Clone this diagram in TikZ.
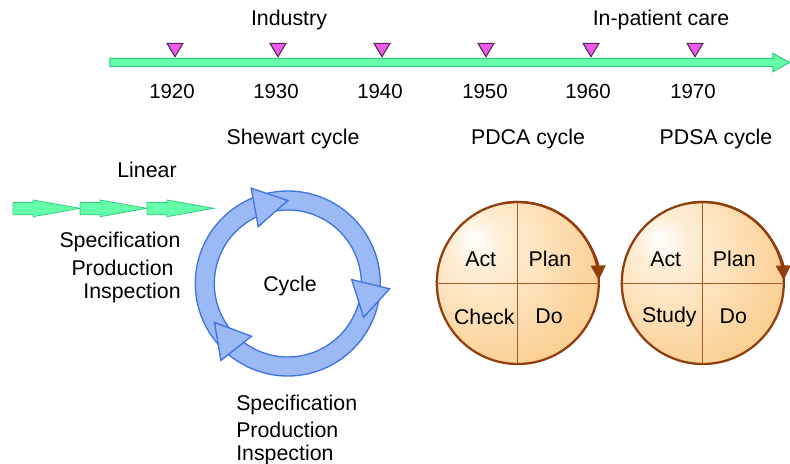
\documentclass[tikz,border=0pt]{standalone}
\usepackage{fontspec}
\setmainfont{Liberation Sans}
\usetikzlibrary{arrows.meta,calc}
\definecolor{mint}{RGB}{102,255,170}
\definecolor{mintline}{RGB}{50,205,130}
\definecolor{magfill}{RGB}{238,90,238}
\definecolor{magline}{RGB}{80,40,80}
\definecolor{ringfill}{RGB}{155,185,245}
\definecolor{ringline}{RGB}{65,115,225}
\definecolor{brownline}{RGB}{145,62,15}
\definecolor{divline}{RGB}{165,90,45}
\definecolor{orLight}{RGB}{254,238,214}
\definecolor{orMid}{RGB}{250,200,130}
\definecolor{orDark}{RGB}{245,168,75}
\pgfdeclareradialshading{orb}{\pgfpoint{-14bp}{14bp}}{color(0bp)=(white); color(8bp)=(orLight); color(40bp)=(orMid); color(62bp)=(orDark); color(70bp)=(orDark)}
\tikzset{
  lbl/.style={inner sep=0pt, font=\fontsize{16}{19}\selectfont},
  yearlbl/.style={inner sep=0pt, font=\fontsize{15.3}{18}\selectfont},
  timeline/.style={fill=mint, draw=mintline, line width=0.8pt, line join=miter},
  marker/.style={fill=magfill, draw=magline, line width=0.8pt},
  linarrow/.style={fill=mint, draw=mintline, line width=0.6pt},
  ringstyle/.style={fill=ringfill, draw=ringline, line width=1pt, line join=miter},
  orbdisk/.style={circle, shading=orb, draw=brownline, line width=1.7pt, minimum size=121.5pt, inner sep=0pt, outer sep=0pt},
  divider/.style={draw=divline, line width=0.7pt},
  orbarrow/.style={draw=brownline, line width=1.7pt, -{Triangle[length=11pt,width=11pt]}}
}
\begin{document}
\begin{tikzpicture}[x=0.75pt,y=0.75pt]
\useasboundingbox (0,0) rectangle (790,464);
% timeline
\draw[timeline] (110,397.3) -- (773,397.3) -- (773,392.3) -- (789.5,401.5) -- (773,410.7) -- (773,405.7) -- (110,405.7) -- cycle;
\foreach \x in {175,278,382,486,591,695}
  \draw[marker] (\x-8,420.7) -- (\x+8,420.7) -- (\x,407.3) -- cycle;
\foreach \x/\yr in {172/1920,276/1930,380/1940,485/1950,588/1960,693/1970}
  \node[yearlbl] (y\yr) at (\x,373) {\yr};
\node[lbl] (industry) at (289,444) {Industry};
\node[lbl] (inpatient) at (661,444) {In-patient care};
% headings
\node[lbl] (shewart) at (293,325) {Shewart cycle};
\node[lbl] (pdcatitle) at (528,325) {PDCA cycle};
\node[lbl] (pdsatitle) at (716,325) {PDSA cycle};
\node[lbl] (linear) at (147,294) {Linear};
% linear arrows
\foreach \s in {13,80,147}
  \draw[linarrow] (\s,249.2) -- (\s+20,249.2) -- (\s+20,247.3) -- (\s+67,255.7) -- (\s+20,264) -- (\s+20,261.5) -- (\s,261.5) -- cycle;
\node[lbl] (spec1) at (120,222) {Specification};
\node[lbl] (prod1) at (122.5,196) {Production};
\node[lbl] (insp1) at (132,171) {Inspection};
% cycle ring
\coordinate (cc) at (287.8,180.5);
\fill[ringfill, even odd rule] (cc) circle (92.5) (cc) circle (73.5);
\draw[ringline, line width=1pt] (cc) circle (92.5) (cc) circle (73.5);
\foreach \b in {114, 0, 232}
  \draw[ringstyle] ($(cc)+(\b+3.5:64)$) -- ($(cc)+(\b-24:83)$) -- ($(cc)+(\b-3:102)$) -- cycle;
\node[lbl] (cycle) at (290,178) {Cycle};
\node[lbl, anchor=west] (spec2) at (236,59) {Specification};
\node[lbl, anchor=west] (prod2) at (236,34) {Production};
\node[lbl, anchor=west] (insp2) at (236,9) {Inspection};
% PDCA
\node[orbdisk] (pdca) at (517.8,181) {};
\draw[divider] (pdca.north) -- (pdca.south);
\draw[divider] (pdca.west) -- (pdca.east);
\draw[orbarrow] (pdca.100) arc (100:2:81);
\node[lbl] (act1) at (480.7,205) {Act};
\node[lbl] (plan1) at (550,205) {Plan};
\node[lbl] (check1) at (484.3,147.3) {Check};
\node[lbl] (do1) at (549,147.3) {Do};
% PDSA
\node[orbdisk] (pdsa) at (702.8,181) {};
\draw[divider] (pdsa.north) -- (pdsa.south);
\draw[divider] (pdsa.west) -- (pdsa.east);
\draw[orbarrow] (pdsa.100) arc (100:2:81);
\node[lbl] (act2) at (665.7,205) {Act};
\node[lbl] (plan2) at (734.3,205) {Plan};
\node[lbl] (study2) at (669.3,147.3) {Study};
\node[lbl] (do2) at (733.3,147.3) {Do};
\end{tikzpicture}
\end{document}
